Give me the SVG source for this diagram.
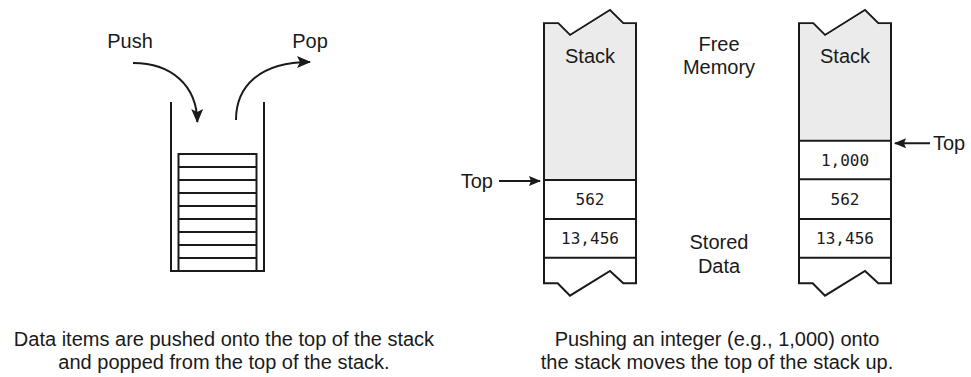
<svg xmlns="http://www.w3.org/2000/svg" width="971" height="377" viewBox="0 0 971 377">
  <style>
    .bg { fill: #ffffff; }
    .line { fill: none; stroke: #1a1a1a; stroke-width: 2; }
    .outline { stroke: #1a1a1a; stroke-width: 2; stroke-linejoin: miter; }
    .free { fill: #ebebeb; }
    .used { fill: #ffffff; }
    .label { font-family: "Liberation Sans", Arial, sans-serif; font-size: 20px; fill: #1a1a1a; }
    .mid { text-anchor: middle; }
    .num { font-family: "DejaVu Sans Mono", "Liberation Mono", monospace; font-size: 16px; fill: #1a1a1a; text-anchor: middle; }
    .caption { font-family: "Liberation Sans", Arial, sans-serif; font-size: 20px; fill: #1a1a1a; text-anchor: middle; }
  </style>
  <defs>
    <marker id="head" markerUnits="userSpaceOnUse" markerWidth="12" markerHeight="12" viewBox="0 0 12 10" refX="11" refY="5" orient="auto">
      <path d="M0,0 L12,5 L0,10 L2,5 z" fill="#1a1a1a"/>
    </marker>
    <marker id="head-big" markerUnits="userSpaceOnUse" markerWidth="14" markerHeight="13" viewBox="0 0 14 12" refX="13" refY="6" orient="auto">
      <path d="M0,0 L14,6 L0,12 L3,6 z" fill="#1a1a1a"/>
    </marker>
  </defs>
  <rect class="bg" x="0" y="0" width="971" height="377"/>

  <!-- left figure: container holding a pile of plates -->
  <g id="container">
    <path class="line" d="M171,102 V271 H264 V102"/>
  </g>
  <g id="plates">
    <rect class="line" x="178.5" y="154" width="78" height="117"/>
    <path class="line" d="M178.5,167 H256.5 M178.5,180 H256.5 M178.5,193 H256.5 M178.5,206 H256.5 M178.5,219 H256.5 M178.5,232 H256.5 M178.5,245 H256.5 M178.5,258 H256.5"/>
  </g>
  <g id="push-label">
    <text class="label mid" x="130" y="48">Push</text>
  </g>
  <g id="pop-label">
    <text class="label mid" x="310" y="48">Pop</text>
  </g>

  <!-- memory column before the push -->
  <g id="stack-before">
    <path class="outline used" d="M544,23.3 H558.3 L570,35 L610,10 L623.3,23.3 H636 V283.3 H623.3 L610,271 L570,295.7 L557.7,283.3 H544 Z"/>
    <path class="free" d="M545,24.3 H557.9 L570,36.3 L610,11.4 L622.9,24.3 H635 V179 H545 Z"/>
    <path class="line" d="M544,180 H636 M544,219 H636 M544,257.7 H636"/>
    <text class="label mid" x="590" y="62.7">Stack</text>
    <text class="num" x="590" y="205">562</text>
    <text class="num" x="590" y="244">13,456</text>
  </g>
  <g id="top-before">
    <text class="label" x="493" y="188" text-anchor="end">Top</text>
  </g>

  <!-- side labels -->
  <g id="free-memory">
    <text class="label mid" x="719" y="50.7">Free</text>
    <text class="label mid" x="719" y="74">Memory</text>
  </g>
  <g id="stored-data">
    <text class="label mid" x="719" y="249.3">Stored</text>
    <text class="label mid" x="719" y="272.7">Data</text>
  </g>

  <!-- memory column after pushing 1,000 -->
  <g id="stack-after">
    <path class="outline used" d="M799,23.3 H813.3 L825,35 L865,10 L878.3,23.3 H891 V283.3 H878.3 L865,271 L825,295.7 L812.7,283.3 H799 Z"/>
    <path class="free" d="M800,24.3 H812.9 L825,36.3 L865,11.4 L877.9,24.3 H890 V139.7 H800 Z"/>
    <path class="line" d="M799,140.7 H891 M799,179.3 H891 M799,219 H891 M799,257.7 H891"/>
    <text class="label mid" x="845" y="62.7">Stack</text>
    <text class="num" x="845" y="165.6">1,000</text>
    <text class="num" x="845" y="205">562</text>
    <text class="num" x="845" y="244">13,456</text>
  </g>
  <g id="top-after">
    <text class="label" x="933" y="150">Top</text>
  </g>

  <!-- connectors -->
  <g id="connectors">
    <path class="line" d="M133,63 C172,63 197,86 197.3,122" marker-end="url(#head-big)"/>
    <path class="line" d="M236,120 C236,86 260,62 310,62" marker-end="url(#head-big)"/>
    <path class="line" d="M499,181 H540" marker-end="url(#head)"/>
    <path class="line" d="M930,143.3 H895" marker-end="url(#head)"/>
  </g>

  <!-- captions -->
  <g id="caption-left">
    <text class="caption" x="224" y="346">Data items are pushed onto the top of the stack</text>
    <text class="caption" x="224" y="369">and popped from the top of the stack.</text>
  </g>
  <g id="caption-right">
    <text class="caption" x="717" y="346">Pushing an integer (e.g., 1,000) onto</text>
    <text class="caption" x="717" y="369">the stack moves the top of the stack up.</text>
  </g>
</svg>
